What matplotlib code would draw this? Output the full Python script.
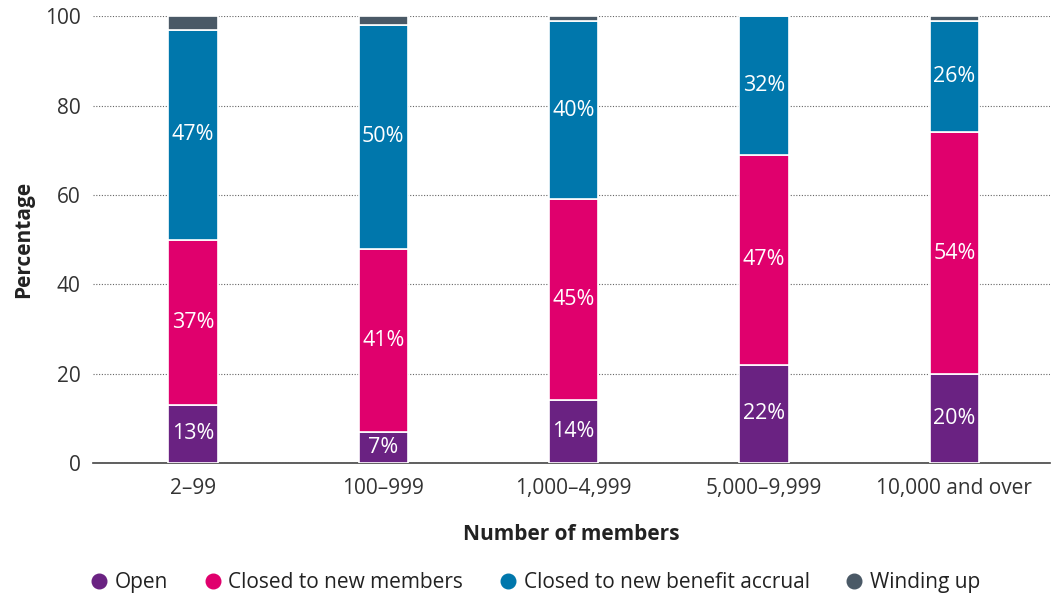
import numpy as np
import matplotlib.pyplot as plt
from matplotlib.lines import Line2D

plt.rcParams['font.family'] = ['Open Sans', 'DejaVu Sans']

categories = ['2–99', '100–999', '1,000–4,999', '5,000–9,999', '10,000 and over']
open_vals = [13, 7, 14, 22, 20]
closed_members = [37, 41, 45, 47, 54]
closed_accrual = [47, 50, 40, 31, 25]
winding_up = [3, 2, 1, 0, 1]

open_labels = ['13%', '7%', '14%', '22%', '20%']
members_labels = ['37%', '41%', '45%', '47%', '54%']
accrual_labels = ['47%', '50%', '40%', '32%', '26%']

series_names = ['Open', 'Closed to new members', 'Closed to new benefit accrual', 'Winding up']
colors = ['#6a2282', '#e0006d', '#0077ac', '#4a5966']

fig = plt.figure(figsize=(10.58, 5.99), dpi=100)
ax = fig.add_axes([0.088, 0.227, 0.904, 0.746])

x = np.arange(len(categories))
width = 0.26
bottom = np.zeros(len(categories))
all_vals = [open_vals, closed_members, closed_accrual, winding_up]
all_labels = [open_labels, members_labels, accrual_labels, None]

for vals, col, labs in zip(all_vals, colors, all_labels):
    vals = np.array(vals, dtype=float)
    ax.bar(x, vals, width, bottom=bottom, color=col, edgecolor='white', linewidth=1.2, zorder=3)
    if labs is not None:
        for xi, b, v, lab in zip(x, bottom, vals, labs):
            ax.text(xi, b + v / 2, lab, ha='center', va='center', color='white', fontsize=15.5, zorder=4)
    bottom += vals

ax.set_xlim(-0.525, 4.5)
ax.set_ylim(0, 100)
ax.set_yticks([0, 20, 40, 60, 80, 100])
ax.set_xticks(x)
ax.set_xticklabels(categories)
ax.tick_params(axis='both', length=0, labelsize=15, colors='#333333')
ax.tick_params(axis='x', pad=11)
ax.tick_params(axis='y', pad=9)
ax.yaxis.grid(True, linestyle=(0, (1, 1.5)), color='#666666', linewidth=0.8, zorder=0)
for s in ['top', 'right', 'left']:
    ax.spines[s].set_visible(False)
ax.spines['bottom'].set_color('#444444')
ax.spines['bottom'].set_linewidth(1.2)

ax.set_ylabel('Percentage', fontsize=15, fontweight='bold', color='#222222', labelpad=8)
ax.set_xlabel('Number of members', fontsize=15, fontweight='bold', color='#222222', labelpad=18)

handles = [Line2D([0], [0], marker='o', linestyle='', markersize=10.5, markerfacecolor=c, markeredgecolor=c)
           for c in colors]
fig.legend(handles, series_names, loc='center', bbox_to_anchor=(0.506, 0.027), ncol=4, frameon=False,
           fontsize=15, handlelength=0.8, handletextpad=0.35, columnspacing=1.75, labelcolor='#222222')

fig.savefig('out.png', dpi=100)
